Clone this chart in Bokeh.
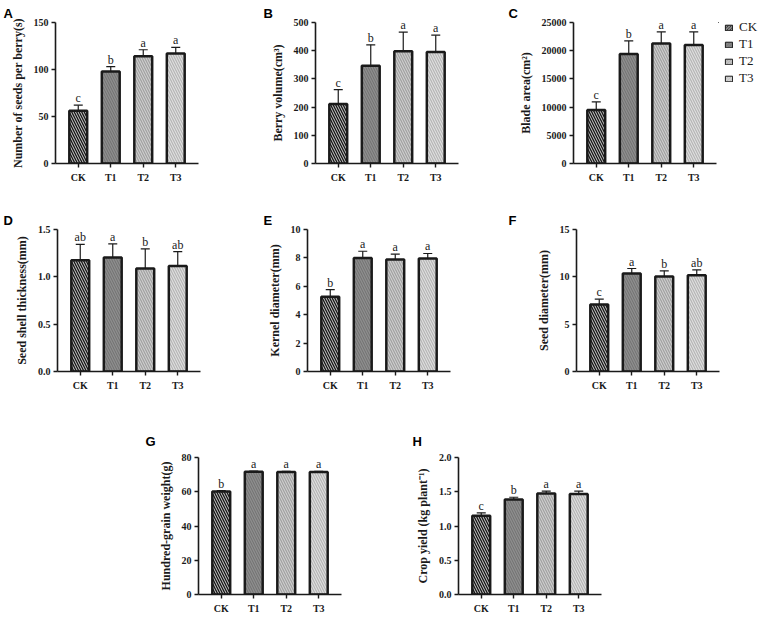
from bokeh.plotting import figure
from bokeh.models import (ColumnDataSource, Range1d, FixedTicker, NumeralTickFormatter,
                          Legend, LegendItem, Spacer, Whisker, TeeHead)
from bokeh.layouts import row, column
from bokeh.embed import file_html
from bokeh.resources import INLINE
from bokeh.core.properties import value

categories = ["CK", "T1", "T2", "T3"]

seeds_mean = [56, 98, 114, 117]
seeds_sd = [6, 5, 7, 6.5]
seeds_sig = ["c", "b", "a", "a"]

volume_mean = [211, 347, 398, 395]
volume_sd = [51, 74, 68, 60]
volume_sig = ["c", "b", "a", "a"]

blade_mean = [9500, 19430, 21280, 21030]
blade_sd = [1420, 2310, 2050, 2300]
blade_sig = ["c", "b", "a", "a"]

shell_mean = [1.175, 1.203, 1.087, 1.115]
shell_sd = [0.167, 0.145, 0.208, 0.152]
shell_sig = ["ab", "a", "b", "ab"]

kernel_mean = [5.26, 8.00, 7.89, 7.96]
kernel_sd = [0.51, 0.47, 0.37, 0.35]
kernel_sig = ["b", "a", "a", "a"]

seeddia_mean = [7.07, 10.35, 10.03, 10.17]
seeddia_sd = [0.57, 0.53, 0.60, 0.56]
seeddia_sig = ["c", "a", "b", "ab"]

grain_mean = [60.2, 71.7, 71.6, 71.6]
grain_sd = [0.4, 0.3, 0.3, 0.3]
grain_sig = ["b", "a", "a", "a"]

yield_mean = [1.150, 1.387, 1.476, 1.467]
yield_sd = [0.043, 0.033, 0.034, 0.043]
yield_sig = ["c", "b", "a", "a"]

fills = ["#161616", "#8e8e8e", "#a2a2a2", "#b6b6b6"]
hatches = ["#cfcfcf", "#707070", "#d6d6d6", "#e6e6e6"]
hatch_scales = [5, 5, 5, 5]
hatch_weights = [1.0, 1.0, 1.0, 1.0]

SERIF = "Liberation Serif"
SANS = "Liberation Sans"
INK = "#1a1a1a"


def make_source(mean, sd, sig):
    xs = list(range(len(categories)))
    upper = [m + s for m, s in zip(mean, sd)]
    return ColumnDataSource(dict(x=xs, mean=mean, upper=upper, sig=sig,
                                 fill=fills, hatch=hatches, hs=hatch_scales,
                                 hw=hatch_weights))


def panel(letter, letter_dx, title_standoff, mean, sd, sig, ylabel, yend, ystep, fmt,
          width, height, bl, br, bt, bb):
    xs = list(range(len(categories)))
    src = make_source(mean, sd, sig)
    p = figure(x_range=Range1d(-0.7, len(categories) - 0.3), y_range=Range1d(0, yend),
               width=width, height=height, output_backend="svg", toolbar_location=None,
               min_border_left=bl, min_border_right=br, min_border_top=bt,
               min_border_bottom=bb)
    p.outline_line_color = None
    p.xgrid.visible = False
    p.ygrid.visible = False
    p.background_fill_color = "white"
    p.border_fill_color = "white"

    p.vbar(x="x", top="mean", width=0.55, source=src, fill_color="fill",
           line_color=INK, line_width=2.5, hatch_pattern="\\",
           hatch_color="hatch", hatch_scale="hs", hatch_weight="hw")
    w = Whisker(base="x", lower="mean", upper="upper", source=src,
                line_color=INK, line_width=1.2,
                upper_head=TeeHead(size=9, line_color=INK, line_width=1.2),
                lower_head=None)
    p.add_layout(w)
    p.text(x="x", y="upper", text="sig", source=src, text_align="center",
           text_baseline="alphabetic", y_offset=-7, text_font=value(SERIF),
           text_font_size="12px", text_color=INK)

    p.xaxis.ticker = FixedTicker(ticks=xs)
    p.xaxis.major_label_overrides = {i: c for i, c in zip(xs, categories)}
    p.yaxis.ticker = FixedTicker(ticks=[ystep * i for i in range(int(round(yend / ystep)) + 1)])
    if fmt:
        p.yaxis.formatter = NumeralTickFormatter(format=fmt)
    p.yaxis.axis_label = ylabel
    for ax in (p.xaxis[0], p.yaxis[0]):
        ax.axis_line_color = INK
        ax.axis_line_width = 1.6
        ax.major_tick_line_color = INK
        ax.major_tick_line_width = 1.4
        ax.major_tick_out = 4
        ax.major_tick_in = 0
        ax.minor_tick_line_color = None
        ax.major_label_text_font = SERIF
        ax.major_label_text_font_style = "bold"
        ax.major_label_text_font_size = "10px"
        ax.major_label_text_color = INK
    p.yaxis.major_label_standoff = 3
    p.xaxis.major_label_standoff = 4
    p.yaxis.axis_label_text_font = SERIF
    p.yaxis.axis_label_text_font_style = "bold"
    p.yaxis.axis_label_text_font_size = "12px"
    p.yaxis.axis_label_text_color = INK
    p.yaxis.axis_label_standoff = 6

    p.title.text = letter
    p.title.align = "left"
    p.title.offset = letter_dx
    p.title.vertical_align = "top"
    p.title.standoff = title_standoff
    p.title.text_font = SANS
    p.title.text_font_style = "bold"
    p.title.text_font_size = "13px"
    p.title.text_color = "black"
    return p


def legend_panel(width, height, loc):
    src = make_source(blade_mean, blade_sd, blade_sig)
    p = figure(x_range=Range1d(10, 11), y_range=Range1d(-2, -1), width=width, height=height,
               output_backend="svg", toolbar_location=None, x_axis_location=None,
               y_axis_location=None, min_border=0)
    p.outline_line_color = None
    p.xgrid.visible = False
    p.ygrid.visible = False
    r = p.vbar(x="x", top="mean", width=0.55, source=src, fill_color="fill",
               line_color=INK, line_width=1.0, hatch_pattern="\\",
               hatch_color="hatch", hatch_scale=3, hatch_weight=0.8)
    items = [LegendItem(label=c, renderers=[r], index=i) for i, c in enumerate(categories)]
    lg = Legend(items=items, location=loc, orientation="vertical",
                glyph_width=9, glyph_height=7, label_height=16, spacing=1,
                padding=0, margin=0, label_standoff=6,
                label_text_font=SERIF, label_text_font_size="13px",
                label_text_color=INK, border_line_color=None,
                background_fill_alpha=0)
    p.add_layout(lg)
    return p


pA = panel("A", -52, 0, seeds_mean, seeds_sd, seeds_sig, "Number of seeds per berry(s)",
           150, 50, None, 250, 210, 55, 52, 22, 47)
pB = panel("B", -52, 0, volume_mean, volume_sd, volume_sig, "Berry volume(cm³)",
           500, 100, None, 245, 210, 65, 37, 22, 47)
pC = panel("C", -65, 0, blade_mean, blade_sd, blade_sig, "Blade area(cm²)",
           25000, 5000, None, 223, 210, 78, 2, 22, 47)
pL = legend_panel(48, 210, (6, 77))

pD = panel("D", -54, 0, shell_mean, shell_sd, shell_sig, "Seed shell thickness(mm)",
           1.5, 0.5, "0.0", 250, 205, 57, 50, 19, 44)
pE = panel("E", -44, 0, kernel_mean, kernel_sd, kernel_sig, "Kernel diameter(mm)",
           10, 2, None, 245, 205, 57, 45, 19, 44)
pF = panel("F", -68, 0, seeddia_mean, seeddia_sd, seeddia_sig, "Seed diameter(mm)",
           15, 5, None, 271, 205, 81, 47, 19, 44)

pG = panel("G", -53, 13, grain_mean, grain_sd, grain_sig, "Hundred-grain weight(g)",
           80, 20, None, 265, 201, 53, 69, 42, 20)
pH = panel("H", -46, 13, yield_mean, yield_sd, yield_sig, "Crop yield (kg plant⁻¹)",
           2.0, 0.5, "0.0", 356, 201, 48, 165, 42, 20)

layout = column(row(pA, pB, pC, pL), row(pD, pE, pF),
                row(Spacer(width=145, height=201), pG, pH))

open("out.html", "w").write(file_html(layout, INLINE))
